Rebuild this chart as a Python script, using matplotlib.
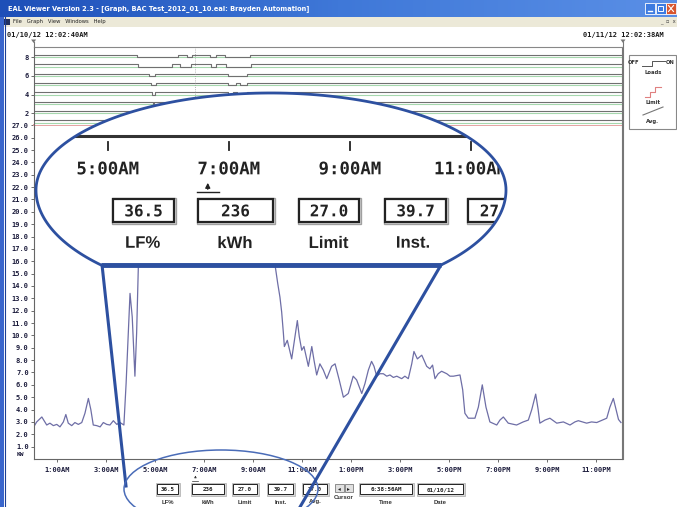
import numpy as np
import matplotlib
matplotlib.use("Agg")
import matplotlib.pyplot as plt
from matplotlib.patches import Rectangle, Ellipse, PathPatch, Polygon
from matplotlib.path import Path
from matplotlib.textpath import TextPath
from matplotlib.font_manager import FontProperties
from matplotlib.transforms import Affine2D
from matplotlib.colors import LinearSegmentedColormap

W, H = 677, 507

# KW trace, hours after midnight 01/10/12
hours = [0.05, 0.17, 0.38, 0.44, 0.58, 0.71, 0.85, 0.99, 1.12, 1.26, 1.36, 1.46,
         1.60, 1.73, 1.87, 2.01, 2.14, 2.28, 2.38, 2.48, 2.62, 2.76, 2.89, 3.03,
         3.16, 3.30, 3.44, 3.57, 3.73, 3.82, 3.98, 4.07, 4.18, 4.25, 4.32,
         4.45, 4.7, 5.0, 5.4, 5.8, 6.2, 6.65, 7.0, 7.5, 8.0, 8.5, 9.0, 9.5, 9.8,
         9.90, 10.01, 10.10, 10.17, 10.24, 10.28, 10.40, 10.58, 10.81, 10.89,
         10.99, 11.08, 11.16, 11.26, 11.40, 11.49, 11.60, 11.73, 11.87, 12.01,
         12.21, 12.35, 12.52, 12.69, 12.89, 13.09, 13.23, 13.44, 13.57, 13.71,
         13.84, 13.94, 14.05, 14.18, 14.32, 14.46, 14.59, 14.73, 14.87, 15.07,
         15.20, 15.34, 15.48, 15.57, 15.71, 15.89, 16.09, 16.22, 16.33, 16.43,
         16.56, 16.70, 16.91, 17.04, 17.18, 17.45, 17.56, 17.65, 17.79, 18.06,
         18.20, 18.36, 18.51, 18.67, 18.95, 19.08, 19.22, 19.42, 19.76, 20.03,
         20.24, 20.38, 20.54, 20.64, 20.71, 20.92, 21.12, 21.40, 21.67, 21.94,
         22.14, 22.28, 22.62, 22.82, 23.03, 23.44, 23.57, 23.71, 23.82, 23.92, 24.02]
kw = [2.6, 3.0, 3.4, 3.2, 2.75, 2.9, 2.7, 2.8, 2.6, 3.0, 3.6, 2.9,
      2.7, 2.95, 2.8, 2.95, 3.7, 4.9, 4.0, 2.75, 2.7, 2.6, 2.95, 2.8,
      2.75, 3.1, 2.8, 2.95, 2.75, 6.1, 13.4, 11.5, 6.7, 10.2, 15.6,
      22, 25, 24, 26, 25, 24, 26, 25, 24, 23, 22, 20, 18, 16.5,
      15.7, 14.2, 13.1, 11.9, 10.2, 9.1, 9.6, 8.1, 11.2, 9.9,
      8.8, 9.1, 8.4, 7.5, 9.1, 8.0, 6.8, 7.7, 7.2, 6.5,
      7.5, 7.7, 6.4, 5.0, 5.3, 6.7, 6.4, 5.3, 6.1, 7.2,
      7.9, 7.5, 6.7, 6.9, 6.9, 6.7, 6.8, 6.6, 6.7, 6.5,
      6.7, 6.5, 7.7, 8.7, 8.1, 8.4, 7.5, 7.3, 7.6, 6.5,
      6.9, 7.1, 6.9, 6.7, 6.7, 6.8, 5.6, 3.7, 3.3, 3.3,
      4.2, 6.0, 4.2, 3.0, 2.75, 3.15, 3.4, 2.9, 2.75, 3.0,
      3.15, 4.0, 5.25, 4.0, 2.9, 3.15, 3.3, 2.9, 3.0, 2.75,
      3.0, 3.1, 2.9, 3.0, 2.95, 3.3, 4.2, 4.9, 4.0, 3.2, 2.95]

start_h = 0.044    # 12:02:40AM
end_h = 24.043     # 12:02:38AM next day
cursor_h = 6.649   # 6:38:56AM
limit_kw = 27.0

tick_hours = [1, 3, 5, 7, 9, 11, 13, 15, 17, 19, 21, 23]
tick_labels = ["1:00AM", "3:00AM", "5:00AM", "7:00AM", "9:00AM", "11:00AM",
               "1:00PM", "3:00PM", "5:00PM", "7:00PM", "9:00PM", "11:00PM"]
kw_ticks = list(range(1, 28))

# load channels: periods switched off (hours)
load_off = {
    8: [(4.27, 5.94), (6.3, 6.5), (7.24, 7.49), (7.86, 8.88)],
    7: [(4.3, 5.7), (6.0, 6.45), (7.3, 7.5), (7.9, 8.9)],
    6: [(4.76, 5.0), (7.97, 8.75)],
    5: [(4.83, 5.04), (7.97, 8.3), (8.45, 8.75)],
    4: [(4.86, 5.0), (7.97, 8.2), (8.35, 8.75)],
    3: [(4.9, 4.95)],
    2: [],
    1: [],
}

readout_names = ["LF%", "kWh", "Limit", "Inst.", "Avg."]
readout_values = ["36.5", "236", "27.0", "39.7", "27.0"]
time_value = "6:38:56AM"
date_value = "01/10/12"

MONO = "DejaVu Sans Mono"
SANS = "Liberation Sans"
LINE = "#6e6ea6"
BLUE = "#2d50a0"


def frac(x0, y0, x1, y1):
    return [x0 / W, 1 - y1 / H, (x1 - x0) / W, (y1 - y0) / H]


fig = plt.figure(figsize=(W / 100, H / 100), dpi=100)
fig.patch.set_facecolor("white")

# ---- main kW graph
ax = fig.add_axes(frac(33.6, 125.3, 621.5, 459))
ax.plot(hours, kw, color=LINE, lw=0.9)
ax.set_xlim(start_h, end_h)
ax.set_ylim(0, limit_kw)
ax.axhline(limit_kw, color="#e6a3a3", lw=1.4, clip_on=False)
ax.spines["top"].set_visible(False)
for s in ["left", "bottom"]:
    ax.spines[s].set_color("#666666")
    ax.spines[s].set_linewidth(0.8)
ax.spines["right"].set_color("#777777")
ax.set_yticks(kw_ticks)
ax.set_yticklabels([f"{v:.1f}" for v in kw_ticks])
ax.set_xticks(tick_hours)
ax.set_xticklabels(tick_labels)
ax.tick_params(axis="both", direction="out", length=2, width=0.6, color="#555555",
               labelsize=5, labelcolor="#1c1c3c", pad=1.5)
ax.tick_params(axis="x", pad=3.5)
for lbl in ax.get_yticklabels() + ax.get_xticklabels():
    lbl.set_fontfamily(MONO)
    lbl.set_fontweight("bold")

# ---- loads panel
axl = fig.add_axes(frac(33.6, 47, 621.5, 124.6))
axl.set_xlim(start_h, end_h)
axl.set_ylim(0.80, 9.10)
for k, offs in load_off.items():
    axl.axhline(k, color="#a6d8ae", lw=0.8)
    xs, ys = [start_h], [k + 0.25]
    for a, b in offs:
        xs += [a, a, b, b]
        ys += [k + 0.25, k, k, k + 0.25]
    xs.append(end_h)
    ys.append(k + 0.25)
    axl.plot(xs, ys, color="#707070", lw=0.8)
axl.axvline(cursor_h, color="#999999", lw=0.6, ls=":")
axl.set_xticks([])
axl.set_yticks([8, 6, 4, 2])
axl.set_yticklabels(["8", "6", "4", "2"])
axl.tick_params(axis="y", direction="out", length=2, width=0.6, color="#555555",
                labelsize=5, labelcolor="#1c1c3c", pad=1.5)
for lbl in axl.get_yticklabels():
    lbl.set_fontfamily(MONO)
    lbl.set_fontweight("bold")
axl.spines["bottom"].set_visible(False)
axl.spines["top"].set_color("#888888")
axl.spines["left"].set_color("#666666")
axl.spines["right"].set_color("#777777")

# ---- window chrome + callout, drawn in pixel coordinates
ov = fig.add_axes([0, 0, 1, 1], zorder=10)
ov.patch.set_visible(False)
ov.axis("off")

grad = LinearSegmentedColormap.from_list("tb", ["#1d4fb8", "#3f78d8", "#5a8fe6"])
ov.imshow(np.linspace(0, 1, 200).reshape(1, -1), extent=[0, W, 17, 0],
          cmap=grad, aspect="auto", zorder=1)
ov.text(8, 9, "EAL Viewer Version 2.3 - [Graph, BAC Test_2012_01_10.eal: Brayden Automation]",
        color="white", fontsize=4.8, fontweight="bold", va="center", zorder=2)
for x0, c in [(645, "#3d7be0"), (655.5, "#3d7be0"), (666, "#d8552e")]:
    ov.add_patch(Rectangle((x0, 3), 10, 11, facecolor=c, edgecolor="white", lw=0.6, zorder=2))
ov.plot([648, 652], [11, 11], color="white", lw=1, zorder=3)
ov.add_patch(Rectangle((658, 6), 5, 5, fill=False, edgecolor="white", lw=0.7, zorder=3))
ov.plot([668.5, 673.5], [5.5, 11.5], color="white", lw=0.8, zorder=3)
ov.plot([668.5, 673.5], [11.5, 5.5], color="white", lw=0.8, zorder=3)

ov.add_patch(Rectangle((0, 17), W, 10, facecolor="#ece9d8", edgecolor="none", zorder=1))
ov.add_patch(Rectangle((4, 19), 6, 6, facecolor="#203060", edgecolor="none", zorder=2))
ov.text(13, 22, "File   Graph   View   Windows   Help", fontsize=3.8,
        va="center", color="#222222", zorder=2)
ov.text(660, 22, "_  \u25ab  x", fontsize=3.8, va="center", color="#444444", zorder=2)
ov.add_patch(Rectangle((0, 17), 4, H - 17, facecolor="#3a66cc", edgecolor="none", zorder=2))
ov.plot([4.5, 4.5], [17, H], color="#1d3f95", lw=0.8, zorder=2)

ov.text(7, 35, "01/10/12 12:02:40AM", family=MONO, fontsize=5, fontweight="bold",
        va="center", color="#1a1a1a")
ov.text(583, 35, "01/11/12 12:02:38AM", family=MONO, fontsize=5, fontweight="bold",
        va="center", color="#1a1a1a")
for xm in [33.6, 623]:
    ov.add_patch(Polygon([[xm - 2.5, 39.5], [xm + 2.5, 39.5], [xm, 43]], closed=True,
                         facecolor="#777777", edgecolor="none"))
ov.plot([33.6, 33.6], [42, 47], color="#777777", lw=0.8)
ov.plot([623, 623], [42, 459], color="#777777", lw=0.8)
ov.text(20, 455, "KW", family=MONO, fontsize=4.5, fontweight="bold", va="center",
        ha="center", color="#1c1c3c")

# legend box
ov.add_patch(Rectangle((629, 55), 47, 74, facecolor="white", edgecolor="#888888", lw=0.8))
ov.text(634, 62, "OFF", fontsize=3.8, fontweight="bold", va="center", ha="center", color="#333333")
ov.text(670, 62, "ON", fontsize=3.8, fontweight="bold", va="center", ha="center", color="#333333")
ov.plot([642, 652, 652, 665], [66, 66, 61, 61], color="#555555", lw=0.7)
ov.text(653, 72, "Loads", fontsize=3.8, fontweight="bold", va="center", ha="center", color="#333333")
ov.plot([645, 650, 650, 655, 655, 661], [97, 97, 92, 92, 87, 87], color="#e08080", lw=0.8)
ov.text(653, 103, "Limit", fontsize=3.8, fontweight="bold", va="center", ha="center", color="#333333")
ov.plot([643, 663], [115, 107], color="#777777", lw=0.8)
ov.text(653, 121, "Avg.", fontsize=3.8, fontweight="bold", va="center", ha="center", color="#333333")


def clip_to(artists, patch):
    for art in artists:
        art.set_clip_on(True)
        art.set_clip_path(patch.get_path(), patch.get_transform())


def path_text(axo, x, y, s, size, family, z, clip):
    # text as a filled path so it can be clipped to the lens
    tp = TextPath((0, 0), s, size=size, prop=FontProperties(family=family, weight="bold"))
    bb = tp.get_extents()
    k = 100 / 72
    tr = Affine2D().translate(-(bb.x0 + bb.width / 2), -(bb.y0 + bb.height / 2)) \
        .scale(k, -k).translate(x, y) + axo.transData
    p = PathPatch(tp, facecolor="#222222", edgecolor="none", transform=tr, zorder=z)
    axo.add_patch(p)
    clip_to([p], clip)
    return p


def readout(axo, x0, x1, y0, y1, txt, fs, lw, z, clip=None):
    outer = Rectangle((x0 - 1.5, y0 - 1.5), x1 - x0 + 3, y1 - y0 + 3, facecolor="#d8d8d8",
                      edgecolor="#a0a0a0", lw=lw * 0.6, zorder=z)
    inner = Rectangle((x0, y0), x1 - x0, y1 - y0, facecolor="white",
                      edgecolor="#222222", lw=lw, zorder=z + 0.1)
    axo.add_patch(outer)
    axo.add_patch(inner)
    if clip is None:
        axo.text((x0 + x1) / 2, (y0 + y1) / 2 + 0.5, txt, family=MONO, fontsize=fs,
                 fontweight="bold", ha="center", va="center", color="#222222", zorder=z + 0.2)
    else:
        clip_to([outer, inner], clip)
        path_text(axo, (x0 + x1) / 2, (y0 + y1) / 2, txt, fs, MONO, z + 0.2, clip)


# bottom readouts
small_x = [(157, 178), (192, 224), (233, 257), (268, 293), (303, 327)]
small_lbl_x = [168, 208, 245, 281, 315]
for (x0, x1), v, name, lx in zip(small_x, readout_values, readout_names, small_lbl_x):
    readout(ov, x0, x1, 484, 494, v, 4.2, 0.7, 3)
    ov.text(lx, 502, name, family=SANS, fontsize=4.3, fontweight="bold",
            ha="center", va="center", color="#333333")
ov.add_patch(Rectangle((335, 484), 8.5, 8, facecolor="#e0e0e0", edgecolor="#666666", lw=0.5))
ov.add_patch(Rectangle((344.5, 484), 8.5, 8, facecolor="#e0e0e0", edgecolor="#666666", lw=0.5))
ov.text(339.2, 488.2, "\u25c2", fontsize=4, ha="center", va="center", color="#222222")
ov.text(348.7, 488.2, "\u25b8", fontsize=4, ha="center", va="center", color="#222222")
ov.text(344, 497.5, "Cursor", family=SANS, fontsize=4.3, fontweight="bold",
        ha="center", va="center", color="#333333")
readout(ov, 360, 412, 484, 494, time_value, 4.2, 0.7, 3)
readout(ov, 418, 463, 484, 494, date_value, 4.2, 0.7, 3)
ov.text(386, 502, "Time", family=SANS, fontsize=4.3, fontweight="bold",
        ha="center", va="center", color="#333333")
ov.text(440, 502, "Date", family=SANS, fontsize=4.3, fontweight="bold",
        ha="center", va="center", color="#333333")
cur_px = 33.6 + (cursor_h - start_h) * 24.5
ov.annotate("", xy=(cur_px, 475.5), xytext=(cur_px, 480.5),
            arrowprops=dict(arrowstyle="-|>", lw=0.5, color="#333333", mutation_scale=3))
ov.plot([cur_px - 3, cur_px + 3], [480.5, 480.5], color="#333333", lw=0.5)

# magnifier callout
cx, cy, a, b_top, b_bot, chord_y = 271, 190, 235, 97, 108.6, 265
t0 = np.arcsin((chord_y - cy) / b_bot)
t_top = np.linspace(0, np.pi, 120)
t_bl = np.linspace(np.pi, np.pi - t0, 40)
t_br = np.linspace(t0, 0, 40)
verts = np.vstack([
    np.column_stack([cx + a * np.cos(t_top), cy - b_top * np.sin(t_top)]),
    np.column_stack([cx + a * np.cos(t_bl), cy + b_bot * np.sin(t_bl)]),
    np.column_stack([cx + a * np.cos(t_br), cy + b_bot * np.sin(t_br)]),
    [[cx + a, cy]],
])
codes = [Path.MOVETO] + [Path.LINETO] * (len(verts) - 2) + [Path.CLOSEPOLY]
lens = PathPatch(Path(verts, codes), facecolor="white", edgecolor="none", zorder=20)
ov.add_patch(lens)
lens_edge = PathPatch(Path(verts, codes), facecolor="none", edgecolor=BLUE, lw=2.0, zorder=24)
ov.add_patch(lens_edge)
left_end = cx - a * np.cos(t0)
right_end = cx + a * np.cos(t0)
ov.plot([left_end, right_end], [chord_y, chord_y], color=BLUE, lw=3.5, zorder=24,
        solid_capstyle="butt")
ov.plot([left_end + 1, 126], [chord_y, 486], color=BLUE, lw=2.2, zorder=19)
ov.plot([right_end, 300], [chord_y, 507], color=BLUE, lw=2.2, zorder=24)
ov.add_patch(Ellipse((221, 489), 194, 78, fill=False, edgecolor="#4a6cb8", lw=1.1, zorder=19))


def mag_x(h):
    return 108 + (h - 5) * 60.5


arts = []
arts += ov.plot([0, W], [136, 136], color="#333333", lw=2.2, zorder=21)
for h, lbl in zip(tick_hours, tick_labels):
    if 4 <= h <= 12:
        arts += ov.plot([mag_x(h), mag_x(h)], [142, 150], color="#222222", lw=1.3, zorder=21)
        path_text(ov, mag_x(h), 168, lbl, 12.5, MONO, 21, lens)
clip_to(arts, lens)
ov.annotate("", xy=(mag_x(cursor_h), 180), xytext=(mag_x(cursor_h), 192),
            arrowprops=dict(arrowstyle="-|>", lw=1.0, color="#222222", mutation_scale=7),
            zorder=21)
ov.plot([mag_x(cursor_h) - 11, mag_x(cursor_h) + 11], [192, 192], color="#222222", lw=1.0, zorder=21)

big_x = [(113, 174), (198, 273), (299, 359), (385, 446), (468, 530)]
big_lbl_x = [143, 235, 329, 413, 500]
for (x0, x1), v, name, lx in zip(big_x, readout_values, readout_names, big_lbl_x):
    readout(ov, x0, x1, 199, 222, v, 11.5, 1.6, 21, clip=lens)
    path_text(ov, lx, 242, name, 12, SANS, 21, lens)

ov.set_xlim(0, W)
ov.set_ylim(H, 0)

fig.savefig("out.png", dpi=100, facecolor="white")
